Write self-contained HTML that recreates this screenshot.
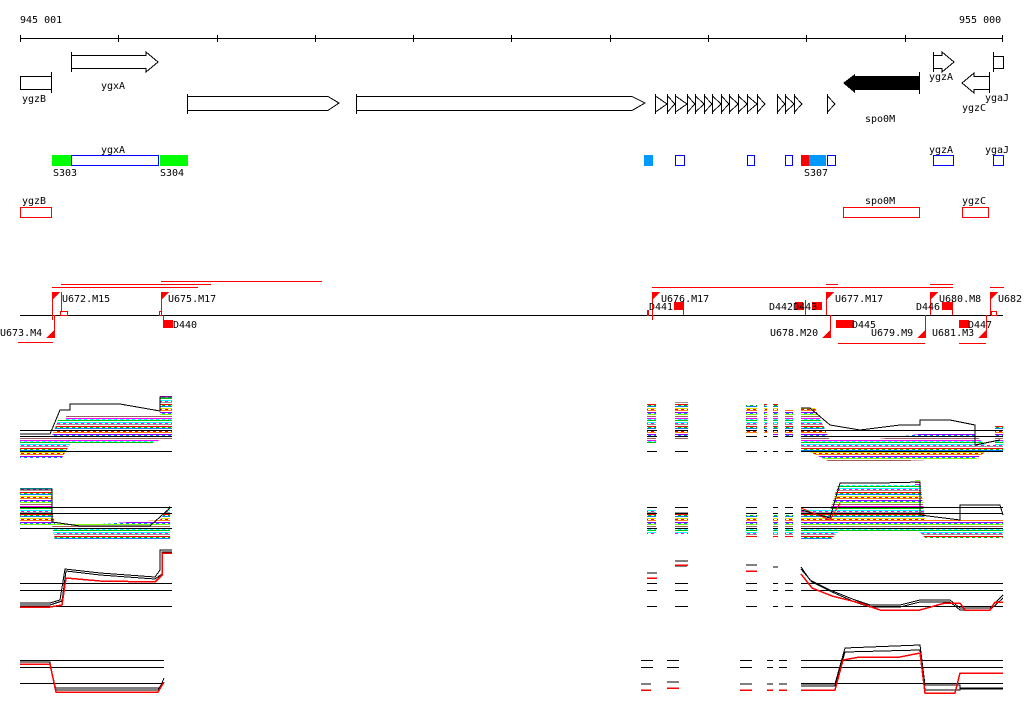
<!DOCTYPE html>
<html><head><meta charset="utf-8"><style>
html,body{margin:0;padding:0;background:#fff;}
svg{display:block;}
text{font-family:"DejaVu Sans Mono","Liberation Mono",monospace;font-size:10px;fill:#000;}
</style></head><body>
<svg width="1024" height="714" viewBox="0 0 1024 714" xmlns="http://www.w3.org/2000/svg" shape-rendering="crispEdges">
<defs>
<pattern id="st" width="6" height="22" patternUnits="userSpaceOnUse">
<rect x="0" y="0" width="6" height="22" fill="#fff"/>
<rect x="0" y="0" width="6" height="1" fill="#ff00ff"/>
<rect x="0" y="2" width="6" height="1" fill="#00c000"/>
<rect x="0" y="4" width="6" height="1" fill="#00ffff"/>
<rect x="0" y="6" width="6" height="1" fill="#999"/>
<rect x="0" y="8" width="6" height="1" fill="#ff0000"/>
<rect x="0" y="10" width="6" height="1" fill="#0080ff"/>
<rect x="0" y="12" width="6" height="1" fill="#e0e000"/>
<rect x="0" y="14" width="6" height="1" fill="#ff8000"/>
<rect x="0" y="16" width="6" height="1" fill="#9900ff"/>
<rect x="0" y="18" width="6" height="1" fill="#80ff00"/>
<rect x="0" y="20" width="6" height="1" fill="#a06060"/>
<rect x="0" y="1" width="3" height="1" fill="#00ffff"/>
<rect x="3" y="5" width="3" height="1" fill="#ff00ff"/>
<rect x="0" y="9" width="3" height="1" fill="#00c000"/>
<rect x="3" y="13" width="3" height="1" fill="#ff0000"/>
<rect x="0" y="17" width="3" height="1" fill="#0080ff"/>
</pattern>
</defs>

<!-- scale -->
<text x="20" y="23">945 001</text>
<text x="959" y="23">955 000</text>
<line x1="20" y1="38.5" x2="1003" y2="38.5" stroke="#000"/>
<g stroke="#000">
<line x1="20.5" y1="35" x2="20.5" y2="42"/><line x1="118.5" y1="35" x2="118.5" y2="42"/><line x1="217.5" y1="35" x2="217.5" y2="42"/><line x1="315.5" y1="35" x2="315.5" y2="42"/><line x1="413.5" y1="35" x2="413.5" y2="42"/><line x1="511.5" y1="35" x2="511.5" y2="42"/><line x1="610.5" y1="35" x2="610.5" y2="42"/><line x1="708.5" y1="35" x2="708.5" y2="42"/><line x1="806.5" y1="35" x2="806.5" y2="42"/><line x1="905.5" y1="35" x2="905.5" y2="42"/><line x1="1002.5" y1="35" x2="1002.5" y2="42"/>
</g>

<!-- genes -->
<g fill="none" stroke="#000">
<path d="M71.5 55.5 H146 V52 L158 62 L146 72 V68.5 H71.5"/><line x1="71.5" y1="52" x2="71.5" y2="72"/>
<rect x="20.5" y="76.5" width="31" height="13"/><line x1="51.5" y1="72" x2="51.5" y2="93"/>
<path d="M187.5 96.5 H328 L339 103 L328 110.5 H187.5"/><line x1="187.5" y1="94" x2="187.5" y2="114"/>
<path d="M356.5 96.5 H632 L645 103 L632 110.5 H356.5"/><line x1="356.5" y1="94" x2="356.5" y2="114"/>
<path d="M933.5 55.5 H942 V52 L954 62 L942 72 V68.5 H933.5"/><line x1="933.5" y1="52" x2="933.5" y2="72"/>
<path d="M989.5 76.5 H974 V73 L962 83 L974 93 V89.5 H989.5"/><line x1="989.5" y1="72" x2="989.5" y2="93"/>
<path d="M993.5 56.5 H1003.5 V68.5 H993.5"/><line x1="993.5" y1="52" x2="993.5" y2="72"/>
<path d="M655.5 96 L667 104 L655.5 112 M655.5 94 V114 M667.5 96 L675 104 L667.5 112 M667.5 94 V114 M675.5 96 L687 104 L675.5 112 M675.5 94 V114 M687.5 96 L695 104 L687.5 112 M687.5 94V114 M695.5 96 L704 104 L695.5 112 M695.5 94V114 M704.5 96 L712 104 L704.5 112 M704.5 94V114 M712.5 96 L721 104 L712.5 112 M712.5 94V114 M721.5 96 L729 104 L721.5 112 M721.5 94V114 M729.5 96 L738 104 L729.5 112 M729.5 94V114 M738.5 96 L747 104 L738.5 112 M738.5 94V114 M747.5 96 L757 104 L747.5 112 M747.5 94V114 M757.5 96 L765 104 L757.5 112 M757.5 94V114 M777.5 96 L785 104 L777.5 112 M777.5 94V114 M785.5 96 L794 104 L785.5 112 M785.5 94V114 M794.5 96 L802 104 L794.5 112 M794.5 94V114 M827.5 96 L835 104 L827.5 112 M827.5 94V114"/>
</g>
<path d="M919 76 H855 V74 L843 83 L855 93 V90 H919 Z" fill="#000"/><line x1="919.5" y1="72" x2="919.5" y2="94" stroke="#000"/>
<text x="101" y="89">ygxA</text><text x="22" y="102">ygzB</text><text x="865" y="122">spo0M</text>
<text x="929" y="80">ygzA</text><text x="962" y="111">ygzC</text><text x="985" y="101">ygaJ</text>

<!-- row 2 -->
<rect x="52" y="155" width="19" height="11" fill="#00ff00"/>
<rect x="71.5" y="155.5" width="87" height="10" fill="none" stroke="#0000ff"/>
<rect x="160" y="155" width="28" height="11" fill="#00ff00"/>
<text x="101" y="153">ygxA</text><text x="53" y="176">S303</text><text x="160" y="176">S304</text>
<rect x="644" y="155" width="9" height="11" fill="#0099ff"/>
<g fill="none" stroke="#0000ff"><rect x="675.5" y="155.5" width="9" height="10"/><rect x="747.5" y="155.5" width="7" height="10"/><rect x="785.5" y="155.5" width="7" height="10"/><rect x="827.5" y="155.5" width="8" height="10"/><rect x="933.5" y="155.5" width="20" height="10"/><rect x="993.5" y="155.5" width="10" height="10"/></g>
<rect x="801" y="155" width="8" height="11" fill="#ff0000"/><rect x="809" y="155" width="17" height="11" fill="#0099ff"/>
<text x="804" y="176">S307</text><text x="929" y="153">ygzA</text><text x="985" y="153">ygaJ</text>

<!-- row 3 -->
<g fill="none" stroke="#ff0000"><rect x="20.5" y="207.5" width="31" height="10"/><rect x="843.5" y="207.5" width="76" height="10"/><rect x="962.5" y="207.5" width="26" height="10"/></g>
<text x="22" y="204">ygzB</text><text x="865" y="204">spo0M</text><text x="962" y="204">ygzC</text>

<!-- transcription units -->
<line x1="20" y1="315.5" x2="1003" y2="315.5" stroke="#000"/>
<g stroke="#ff0000" fill="none">
<line x1="161" y1="281.5" x2="322" y2="281.5"/><line x1="61" y1="284.5" x2="211" y2="284.5"/><line x1="52" y1="287.5" x2="198" y2="287.5"/>
<line x1="18" y1="342.5" x2="53" y2="342.5"/>
<line x1="652" y1="287.5" x2="953" y2="287.5"/><line x1="826" y1="284.5" x2="838" y2="284.5"/><line x1="930" y1="284.5" x2="953" y2="284.5"/><line x1="990" y1="287.5" x2="1004" y2="287.5"/>
<line x1="838" y1="343.5" x2="925" y2="343.5"/><line x1="959" y1="343.5" x2="986" y2="343.5"/>
<line x1="52.5" y1="292" x2="52.5" y2="320"/><line x1="61.5" y1="292" x2="61.5" y2="312"/><line x1="161.5" y1="292" x2="161.5" y2="312"/><line x1="163.5" y1="315" x2="163.5" y2="325"/>
<line x1="652.5" y1="292" x2="652.5" y2="320"/><line x1="683.5" y1="300" x2="683.5" y2="315"/><line x1="805.5" y1="300" x2="805.5" y2="315"/>
<line x1="826.5" y1="292" x2="826.5" y2="315"/><line x1="830.5" y1="315" x2="830.5" y2="338"/><line x1="925.5" y1="315" x2="925.5" y2="338"/><line x1="930.5" y1="292" x2="930.5" y2="315"/><line x1="952.5" y1="300" x2="952.5" y2="315"/>
<line x1="990.5" y1="292" x2="990.5" y2="315"/><line x1="986.5" y1="315" x2="986.5" y2="338"/><line x1="54.5" y1="315" x2="54.5" y2="338"/>
<rect x="60.5" y="311.5" width="7" height="4"/><rect x="159.5" y="311.5" width="2" height="4"/><rect x="991.5" y="311.5" width="5" height="4"/>
</g>
<g fill="#ff0000">
<path d="M52 292 H60 L52 300Z"/><path d="M161 292 H169 L161 300Z"/><path d="M652 292 H660 L652 300Z"/><path d="M826 292 H834 L826 300Z"/><path d="M930 292 H938 L930 300Z"/><path d="M990 292 H998 L990 300Z"/>
<path d="M54 330 V338 H46Z"/><path d="M830 330 V338 H822Z"/><path d="M925 330 V338 H917Z"/><path d="M986 330 V338 H978Z"/>
<rect x="163" y="320" width="10" height="8"/><rect x="674" y="302" width="10" height="8"/><rect x="795" y="302" width="8" height="8"/><rect x="812" y="302" width="10" height="8"/><rect x="836" y="320" width="18" height="8"/><rect x="942" y="302" width="10" height="8"/><rect x="959" y="320" width="10" height="8"/><rect x="647" y="310" width="2" height="6"/>
</g>
<text x="62" y="302">U672.M15</text><text x="168" y="302">U675.M17</text><text x="0" y="336">U673.M4</text><text x="173" y="328">D440</text>
<text x="661" y="302">U676.M17</text><text x="649" y="310">D441</text><text x="769" y="310">D442D443</text><text x="835" y="302">U677.M17</text>
<text x="770" y="336">U678.M20</text><text x="852" y="328">D445</text><text x="871" y="336">U679.M9</text><text x="916" y="310">D446</text><text x="939" y="302">U680.M8</text>
<text x="932" y="336">U681.M3</text><text x="968" y="328">D447</text><text x="998" y="302">U682</text>

<!-- panel 1 -->
<g fill="url(#st)">
<path d="M20 436 H52 L58 420 H66 V415 H160 V396 H172 V440 H160 L150 444 H70 L62 458 H20Z"/>
<rect x="647" y="404" width="9" height="40"/><rect x="675" y="402" width="13" height="38"/>
<rect x="746" y="405" width="11" height="28"/><rect x="764" y="404" width="3" height="30"/><rect x="773" y="403" width="5" height="32"/><rect x="785" y="410" width="8" height="26"/>
<path d="M801 408 H815 L830 440 H870 L920 434 H975 L985 445 H995 V425 H1003 V452 H985 L975 460 H930 L880 462 H830 L810 452 H801Z"/>
</g>
<g fill="none" stroke="#000">
<path d="M20 434 H50 L60 410 H70 V404 H120 L160 411 V397 H172"/>
<path d="M801 408 H810 L830 425 L860 430 L900 425 H920 V420 H950 L975 425 V445 L1000 440"/>
<g stroke-width="1">
<line x1="20" y1="430.5" x2="172" y2="430.5"/><line x1="20" y1="436.5" x2="172" y2="436.5"/><line x1="20" y1="451.5" x2="172" y2="451.5"/>
<line x1="801" y1="430.5" x2="1003" y2="430.5"/><line x1="801" y1="436.5" x2="1003" y2="436.5"/><line x1="801" y1="451.5" x2="1003" y2="451.5"/>
<path d="M647 430.5 h10 M675 430.5 h13 M746 430.5 h11 M764 430.5 h3 M773 430.5 h5 M785 430.5 h8 M647 436.5 h10 M675 436.5 h13 M746 436.5 h11 M764 436.5 h3 M773 436.5 h5 M785 436.5 h8 M647 451.5 h10 M675 451.5 h13 M746 451.5 h11 M764 451.5 h3 M773 451.5 h5 M785 451.5 h8"/>
</g></g>

<!-- panel 2 -->
<g fill="url(#st)">
<path d="M20 487 H52 V510 L55 524 H100 L160 520 L170 505 V540 H55 L52 525 H20Z"/>
<rect x="647" y="510" width="9" height="24"/><rect x="675" y="512" width="13" height="22"/>
<rect x="746" y="515" width="11" height="22"/><rect x="773" y="515" width="5" height="22"/><rect x="785" y="515" width="8" height="22"/>
<path d="M801 510 H830 L838 485 H915 V480 H920 L925 520 H1003 V538 H925 L920 532 H838 L830 540 H801Z"/>
</g>
<g fill="none" stroke="#000">
<path d="M20 489 H52 V522 L80 526 H150 L170 508"/>
<path d="M801 510 L830 518 L840 483 H880 L920 482 V515 L960 520 V505 H1000 L1003 515"/>
<path d="M647 507.5 h10 M675 507.5 h13 M746 507.5 h11 M773 507.5 h5 M785 507.5 h8 M20 507.5 h152 M801 507.5 h202 M647 513.5 h10 M675 513.5 h13 M746 513.5 h11 M773 513.5 h5 M785 513.5 h8 M20 513.5 h152 M801 513.5 h202 M20 528.5 h152 M801 528.5 h202 M647 528.5 h10 M675 528.5 h13 M746 528.5 h11 M773 528.5 h5 M785 528.5 h8"/>
</g>
<path d="M801 508 L830 520 L840 503" fill="none" stroke="#ff0000"/>

<!-- panel 3 -->
<g fill="none" stroke="#000">
<path d="M20 583.5 h152 M20 590.5 h152 M20 606.5 h152 M801 583.5 h202 M801 590.5 h202 M801 606.5 h202 M647 583.5 h10 M675 583.5 h13 M746 583.5 h11 M773 583.5 h5 M785 583.5 h8 M647 590.5 h10 M675 590.5 h13 M746 590.5 h11 M773 590.5 h5 M785 590.5 h8 M647 606.5 h10 M675 606.5 h13 M746 606.5 h11 M773 606.5 h5 M785 606.5 h8"/>
<path d="M20 603 H50 L60 600 L65 569 L100 573 L155 577 L160 570 V550 H172"/>
<path d="M20 605 H50 L62 601 L66 571 L100 575 L155 579 L162 574 V552 H172"/>
<path d="M801 567 L810 580 L830 590 L855 600 L870 605 H900 L920 600 H950 L960 608 H990 L1003 595"/>
<path d="M801 569 L812 582 L832 592 L855 602 L870 607 H900 L920 602 H950 L960 610 H990 L1003 598"/>
<path d="M647 573 h10 M675 561 h13 M675 566 h12 M746 565 h11 M773 567 h5"/>
</g>
<g fill="none" stroke="#ff0000" stroke-width="1.5">
<path d="M20 607 H50 L62 605 L66 578 L100 581 L155 582 L162 575 V553 H172"/>
<path d="M801 574 L812 588 L832 596 L860 603 L880 610 H920 L945 603 H960 L965 610 H990 L995 602 H1003"/>
<path d="M647 578 h10 M675 565 h13 M746 571 h11"/>
</g>

<!-- panel 4 -->
<g fill="none" stroke="#000">
<path d="M20 660.5 h144 M20 667.5 h144 M20 683.5 h144 M801 660.5 h202 M801 667.5 h202 M801 683.5 h202 M641 660.5 h12 M667 660.5 h12 M740 660.5 h12 M767 660.5 h6 M779 660.5 h8 M641 667.5 h12 M667 667.5 h12 M740 667.5 h12 M767 667.5 h6 M779 667.5 h8"/>
<path d="M20 662 H50 L55 688 H160 L164 678"/>
<path d="M20 664 H50 L56 690 H158 L163 682"/>
<path d="M801 684 H835 L845 648 L920 645 L925 685 H960 V688 H1003"/>
<path d="M801 686 H835 L845 652 L920 650 L925 690 H960 V689 H1003"/>
<path d="M641 684 h10 M667 682 h12 M740 684 h12 M767 684 h6 M779 684 h8"/>
</g>
<g fill="none" stroke="#ff0000" stroke-width="1.5">
<path d="M20 664 H50 L56 692 H158 L164 682"/>
<path d="M801 690 H835 L843 660 L860 657 H900 L920 653 L925 693 H955 L960 673 H1003"/>
<path d="M641 690 h10 M667 688 h12 M740 690 h12 M767 690 h6 M779 690 h8"/>
</g>
</svg>
</body></html>
